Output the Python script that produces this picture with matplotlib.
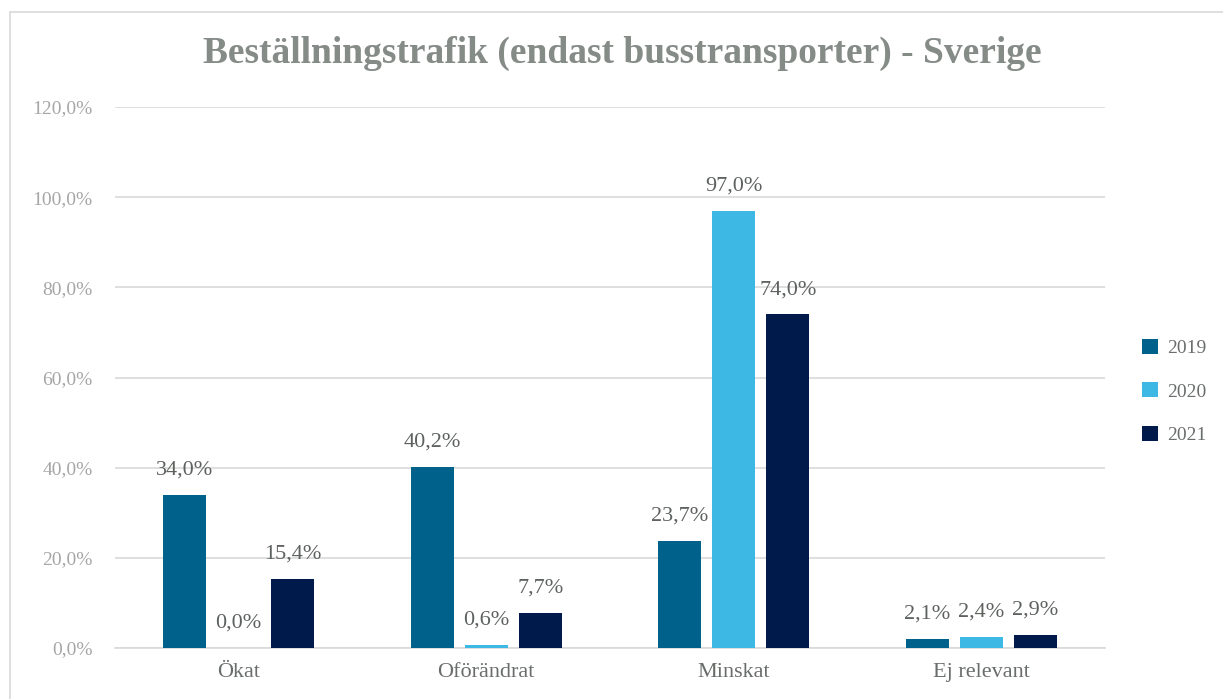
import numpy as np
import matplotlib
matplotlib.use("Agg")
from matplotlib import pyplot as plt
from matplotlib.patches import Rectangle
from matplotlib.ticker import FuncFormatter

plt.rcParams['font.family'] = ['Liberation Serif', 'DejaVu Serif']

categories = ["Ökat", "Oförändrat", "Minskat", "Ej relevant"]
years = ["2019", "2020", "2021"]
v2019 = [34.0, 40.2, 23.7, 2.1]
v2020 = [0.0, 0.6, 97.0, 2.4]
v2021 = [15.4, 7.7, 74.0, 2.9]
colors = ["#00628B", "#3DB7E4", "#001A4B"]
title = "Beställningstrafik (endast busstransporter) - Sverige"

fig = plt.figure(figsize=(12.23, 6.99), dpi=100)
fig.patches.append(Rectangle((10 / 1223, -0.01), 1.1, (699 - 12) / 699 + 0.01,
                             transform=fig.transFigure, fill=False,
                             edgecolor="#D9D9D9", linewidth=1.2))
ax = fig.add_axes([115 / 1223, 51 / 699, 990 / 1223, 541 / 699])

x = np.arange(len(categories))
width = 0.174
step = 0.218
for i, (vals, yr) in enumerate(zip([v2019, v2020, v2021], years)):
    pos = x + (i - 1) * step
    ax.bar(pos, vals, width, color=colors[i], label=yr, zorder=3)
    for p, v in zip(pos, vals):
        ax.annotate(f"{v:.1f}%".replace(".", ","), (p, v), xytext=(0, 11),
                    textcoords="offset points", ha="center", va="bottom",
                    fontsize=16, color="#5E625F")

ax.set_xlim(-0.5, len(categories) - 0.5)
ax.set_ylim(0, 120)
ax.set_yticks(np.arange(0, 121, 20))
ax.yaxis.set_major_formatter(FuncFormatter(lambda v, _: f"{v:.1f}%".replace(".", ",")))
ax.grid(axis="y", color="#D9D9D9", linewidth=1.2, zorder=0)
ax.set_xticks(x)
ax.set_xticklabels(categories, fontsize=16, color="#6A6E6B")
ax.tick_params(axis="y", labelsize=14, labelcolor="#A6A6A6", length=0, pad=16)
ax.tick_params(axis="x", length=0, pad=11)
for s in ["top", "right", "left"]:
    ax.spines[s].set_visible(False)
ax.spines["bottom"].set_color("#D9D9D9")
ax.spines["bottom"].set_linewidth(1.2)

ax.legend(loc="center left", bbox_to_anchor=(1.02, 0.474), frameon=False,
          fontsize=14, labelcolor="#6A6E6B", handlelength=0.8, handleheight=0.8,
          labelspacing=1.3, handletextpad=0.5)

fig.text(622 / 1223, 1 - 53 / 699, title, ha="center", va="center",
         fontsize=27, fontweight="bold", color="#858B86")

fig.savefig("out.png", dpi=100)
